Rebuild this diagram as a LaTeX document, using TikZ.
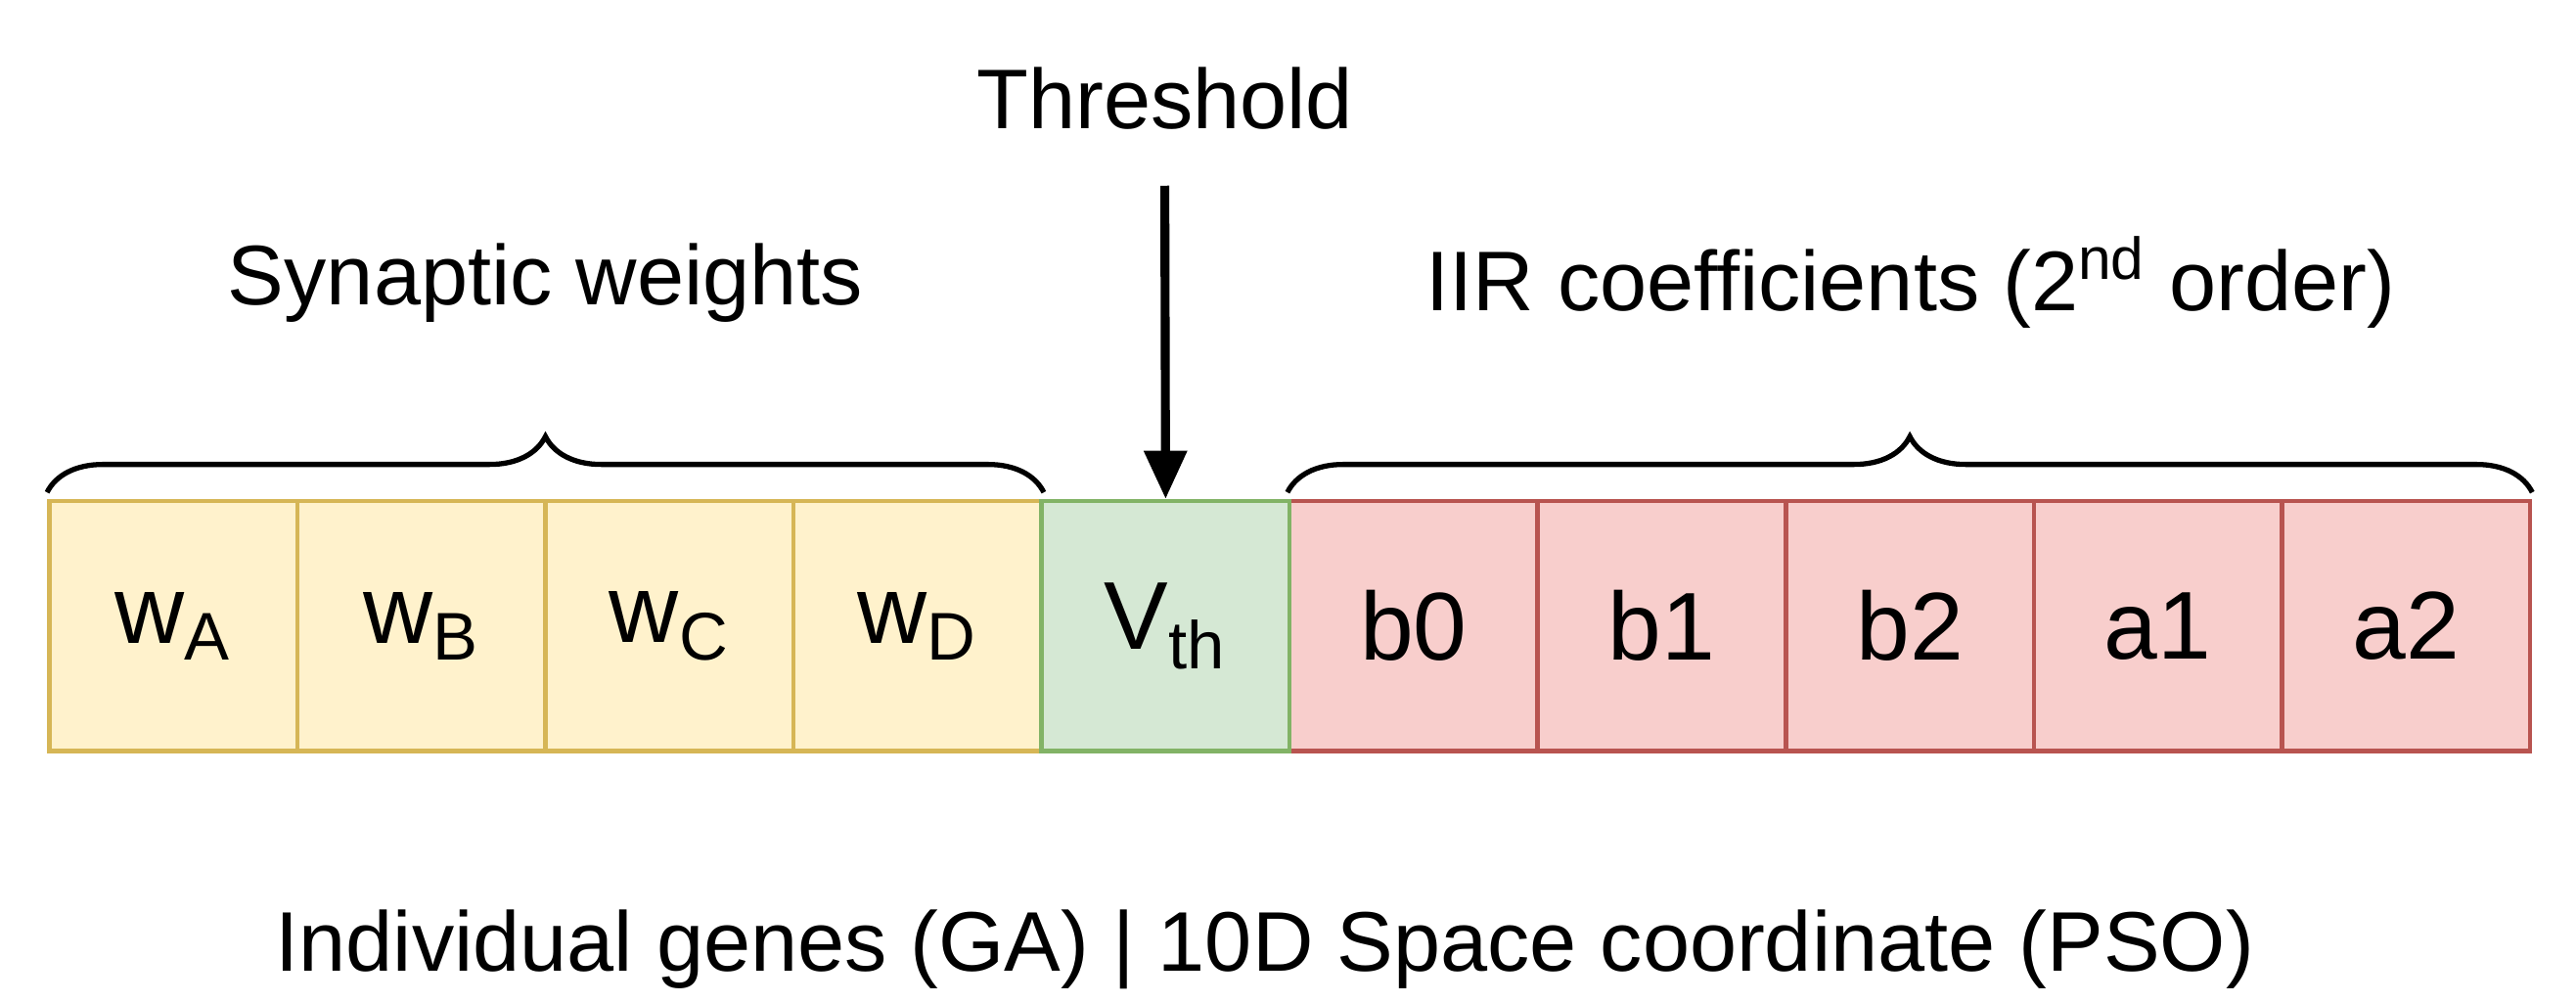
\documentclass[tikz,border=0pt]{standalone}
\usepackage{fontspec}
\setmainfont{Liberation Sans}
\usetikzlibrary{decorations.pathreplacing,arrows.meta}
\definecolor{yf}{HTML}{FFF2CC}\definecolor{yd}{HTML}{D6B656}
\definecolor{gf}{HTML}{D5E8D4}\definecolor{gd}{HTML}{82B366}
\definecolor{rf}{HTML}{F8CECC}\definecolor{rd}{HTML}{B85450}
\begin{document}
\begin{tikzpicture}[x=0.01679cm,y=-0.01679cm,
 cell/.style={draw,line width=1.3pt,minimum width=151*0.01679cm,minimum height=152*0.01679cm,inner sep=0pt,font=\fontsize{28}{32}\selectfont},
 yc/.style={cell,fill=yf,draw=yd}, gc/.style={cell,fill=gf,draw=gd}, rc/.style={cell,fill=rf,draw=rd},
 lab/.style={font=\fontsize{24.6}{29}\selectfont,inner sep=0pt},
 br/.style={decorate,decoration={brace,amplitude=34*0.01679cm},line width=1.5pt}]
\useasboundingbox (0,0) rectangle (1568,610);
\node[yc] (wa) at (105.5,381) {w\textsubscript{A}};
\node[yc] (wb) at (256.5,381) {w\textsubscript{B}};
\node[yc] (wc) at (407.5,381) {w\textsubscript{C}};
\node[yc] (wd) at (558.5,381) {w\textsubscript{D}};
\node[rc] (b0) at (860.5,381) {b0};
\node[rc] (b1) at (1011.5,381) {b1};
\node[rc] (b2) at (1162.5,381) {b2};
\node[rc] (a1) at (1313.5,381) {a1};
\node[rc] (a2) at (1464.5,381) {a2};
\node[gc] (vth) at (709.5,381) {V\textsubscript{th}};
\draw[br] ([yshift=4*0.01679cm]wa.north west) -- ([yshift=4*0.01679cm]wd.north east);
\draw[br] ([yshift=4*0.01679cm]b0.north west) -- ([yshift=4*0.01679cm]a2.north east);
\node[lab] (thr) at (709,60) {Threshold};
\coordinate (as) at (709,113);
\draw[line width=2.6pt,-{Triangle[length=14pt,width=12pt]}] (as) -- (vth.north);
\node[lab] (sw) at (332,172) {Synaptic weights};
\node[lab] (iir) at (1163,172) {IIR coefficients (2\textsuperscript{nd} order)};
\node[lab] (bot) at (770,578) {Individual genes (GA) | 10D Space coordinate (PSO)};
\end{tikzpicture}
\end{document}
